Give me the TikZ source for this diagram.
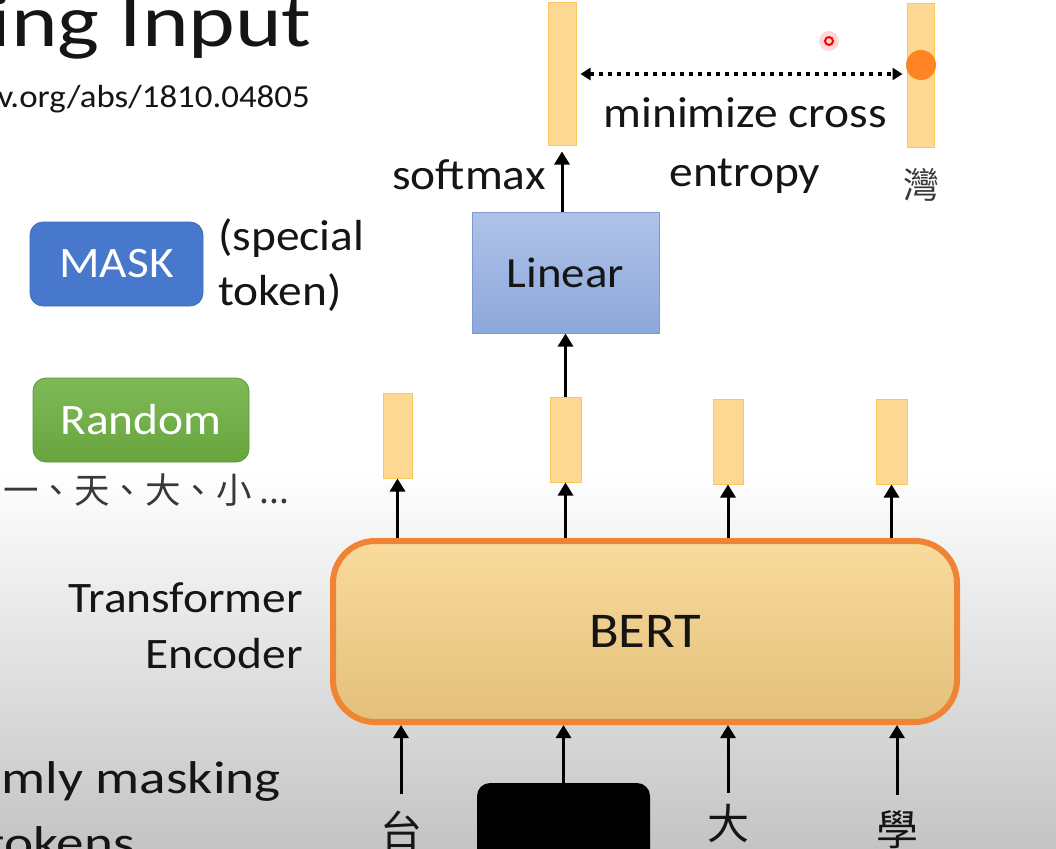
\documentclass[tikz,border=0pt]{standalone}
\usepackage{fontspec}
\setmainfont{Carlito}[FakeStretch=1.09]
\newfontfamily\widefont{Carlito}[FakeStretch=1.2]
\newfontfamily\cjk{Noto Sans CJK TC}
\usetikzlibrary{arrows.meta}
\definecolor{barfill}{HTML}{FDD892}
\definecolor{barline}{HTML}{F7C85E}
\definecolor{lintop}{HTML}{AFC2E8}
\definecolor{linbot}{HTML}{8DA8DB}
\definecolor{linline}{HTML}{7D9AD3}
\definecolor{maskblue}{HTML}{4778CB}
\definecolor{greentop}{HTML}{7EB958}
\definecolor{greenbot}{HTML}{68A53E}
\definecolor{berttop}{HTML}{F9DB9D}
\definecolor{bertbot}{HTML}{E3C07A}
\definecolor{bertline}{HTML}{EE8434}
\definecolor{ink}{HTML}{151515}
\definecolor{bggray}{HTML}{C4C4C4}
\tikzset{
  txt/.style={inner sep=0pt, text=ink, font=\fontsize{43.5}{48}\selectfont},
  bar/.style={draw=barline, fill=barfill, line width=1pt, inner sep=0pt, minimum width=30pt, minimum height=85pt},
  arr/.style={line width=3pt, draw=black, -{Triangle[width=15pt,length=13pt]}},
  dotarr/.style={line width=4pt, draw=black, dash pattern=on 4pt off 5pt, {Triangle[width=12pt,length=10pt]}-{Triangle[width=12pt,length=10pt]}},
  cjkchar/.style={inner sep=0pt, text=ink, font=\cjk\fontsize{42}{46}\selectfont},
}
\begin{document}
\begin{tikzpicture}[x=1pt,y=-1pt]
\useasboundingbox (0,0) rectangle (1056,848);
\clip (0,0) rectangle (1056,848);
% background
\fill[white] (0,0) rectangle (1056,470);
\shade[top color=white, bottom color=bggray] (0,469) rectangle (1056,848);

% title and reference
\node[txt, anchor=base east, font=\widefont\fontsize{74}{78}\selectfont] (title) at (312,47) {Masking Input};
\node[txt, anchor=base east, font=\fontsize{32}{36}\selectfont] (url) at (310,108) {https://arxiv.org/abs/1810.04805};

% left legend
\node[draw=maskblue!90!black, fill=maskblue, rounded corners=13pt, line width=0.8pt, minimum width=173pt, minimum height=84pt, inner sep=0pt, text=white, font=\fontsize{43.5}{48}\selectfont] (mask) at (116.5,264) {MASK};
\node[txt, anchor=base west] (special) at (218,250) {(special};
\node[txt, anchor=base west] (token) at (218,305) {token)};
\node[draw=greenbot!90!black, top color=greentop, bottom color=greenbot, rounded corners=13pt, line width=0.8pt, minimum width=216pt, minimum height=84pt, inner sep=0pt, text=white, font=\fontsize{43.5}{48}\selectfont] (random) at (141,420) {Random};
\node[inner sep=0pt, text=ink!85, anchor=base west, font=\cjk\fontsize{35.5}{38}\selectfont] (rand) at (3,503) {一、天、大、小 ...};

\node[txt, anchor=base east] (tr) at (303,612) {Transformer};
\node[txt, anchor=base east] (enc) at (303,668) {Encoder};
\node[txt, anchor=base east, font=\widefont\fontsize{46}{50}\selectfont] (rm) at (281,793) {Randomly masking};
\node[txt, anchor=base west, font=\widefont\fontsize{46}{50}\selectfont] (tok) at (-14,858) {tokens};

% BERT
\node[draw=bertline, top color=berttop, bottom color=bertbot, rounded corners=42pt, line width=6pt, minimum width=624pt, minimum height=181pt, inner sep=0pt, text=ink, font=\fontsize{50}{54}\selectfont] (bert) at (645,631.5) {BERT};

% output bars
\node[bar, minimum width=29pt] (o1) at (397.5,435.5) {};
\node[bar, minimum width=31pt] (o2) at (565.5,439.5) {};
\node[bar, minimum width=30pt] (o3) at (728,441.5) {};
\node[bar, minimum width=31pt] (o4) at (891.5,441.5) {};

% Linear
\node[draw=linline, top color=lintop, bottom color=linbot, line width=1pt, minimum width=187pt, minimum height=121pt, inner sep=0pt, text=ink, font=\fontsize{43}{48}\selectfont] (lin) at (565.5,272.5) {Linear};

% top bars
\node[bar, minimum width=28pt, minimum height=142pt] (t1) at (562,74) {};
\node[bar, minimum width=27pt, minimum height=143pt] (t2) at (920.5,75.5) {};

% texts top
\node[txt, anchor=base east] (soft) at (546,189) {softmax};
\node[txt, anchor=base] (mc) at (745,128) {minimize cross};
\node[txt, anchor=base] (ent) at (745,186) {entropy};
\node[inner sep=0pt, text=ink!85, font=\cjk\fontsize{36}{38}\selectfont] (wan) at (921,185) {灣};

% inputs
\node[cjkchar] (c1) at (401,830) {台};
\node[fill=black, rounded corners=13pt, minimum width=173pt, minimum height=100pt, inner sep=0pt] (blk) at (563.5,833) {};
\node[cjkchar] (c3) at (728,824) {大};
\node[cjkchar] (c4) at (897,830) {學};

% arrows
\draw[arr] ([yshift=16pt]c1.north) -- (c1.north |- bert.south);
\draw[arr] (blk.north) -- (blk.north |- bert.south);
\draw[arr] ([yshift=12pt]c3.north) -- (c3.north |- bert.south);
\draw[arr] ([yshift=16pt]c4.north) -- (c4.north |- bert.south);

\draw[arr] (bert.north -| o1.south) -- (o1.south);
\draw[arr] (bert.north -| o2.south) -- (o2.south);
\draw[arr] (bert.north -| o3.south) -- (o3.south);
\draw[arr] (bert.north -| o4.south) -- (o4.south);

\draw[arr] (o2.north) -- (o2.north |- lin.south);
\draw[arr] (lin.north -| t1.south) -- ([yshift=-6pt]t1.south);

\draw[dotarr] ([xshift=4pt]t1.east) -- ([xshift=-4pt]t1.east -| t2.west);

% pointer marks
\fill[orange!85!red!90, opacity=0.9] (921,65) circle (15pt);
\fill[red!25, opacity=0.6] (829,41) circle (10pt);
\draw[red, line width=2pt] (829,41) circle (4pt);
\end{tikzpicture}
\end{document}
